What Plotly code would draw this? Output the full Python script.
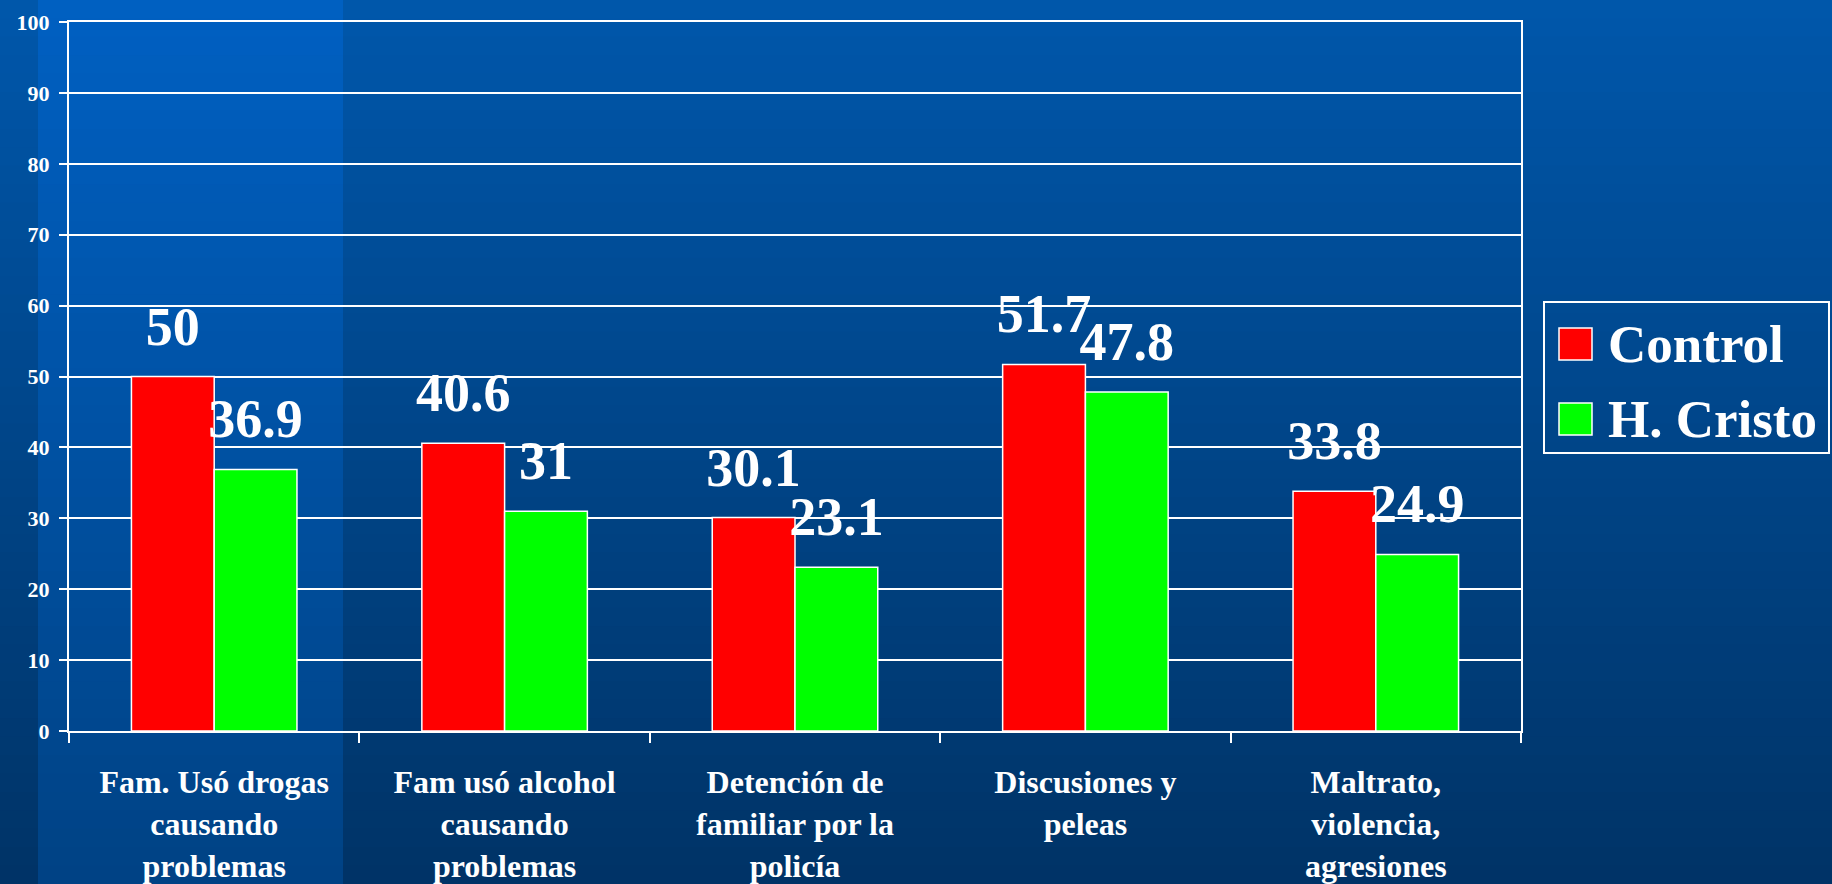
import plotly.graph_objects as go

# Datos del gráfico
categorias = [
    "Fam. Usó drogas<br>causando<br>problemas",
    "Fam usó alcohol<br>causando<br>problemas",
    "Detención de<br>familiar por la<br>policía",
    "Discusiones y<br>peleas",
    "Maltrato,<br>violencia,<br>agresiones",
]
control = [50, 40.6, 30.1, 51.7, 33.8]
cristo = [36.9, 31, 23.1, 47.8, 24.9]
series = ["Control", "H. Cristo"]
colores = ["#FF0000", "#00FF00"]
ticks_y = [0, 10, 20, 30, 40, 50, 60, 70, 80, 90, 100]

# Geometría de la figura (px)
ANCHO, ALTO = 1832, 884
L, R, T, B = 69, 1521, 22, 731
PW, PH = R - L, B - T
FUENTE = "Liberation Serif, Times New Roman, serif"


def px(x, y):
    # pixel de la página -> coordenadas paper
    return (x - L) / PW, (B - y) / PH


def mezcla(c1, c2, t):
    return "rgb({},{},{})".format(*[round(a + (b - a) * t) for a, b in zip(c1, c2)])


formas = []


def degradado(x0, x1, arriba, abajo, n=48):
    for i in range(n):
        y0 = ALTO * i / n
        y1 = ALTO * (i + 1) / n + 1
        a0, b0 = px(x0, y1)
        a1, b1 = px(x1, y0)
        formas.append(dict(type="rect", xref="paper", yref="paper", x0=a0, x1=a1,
                           y0=b0, y1=b1, layer="below", line_width=0,
                           fillcolor=mezcla(arriba, abajo, (i + 0.5) / n)))


# fondo tipo diapositiva
degradado(0, ANCHO, (0, 87, 171), (0, 51, 102))
degradado(38, 343, (0, 96, 194), (0, 66, 132))

fig = go.Figure()
for nombre, valores, color in zip(series, [control, cristo], colores):
    fig.add_trace(go.Bar(
        x=categorias, y=valores, name=nombre, offsetgroup=nombre,
        marker=dict(color=color, line=dict(color="white", width=1.5)),
        showlegend=False, hoverinfo="skip",
    ))
    fig.add_trace(go.Scatter(
        x=categorias, y=valores, offsetgroup=nombre, mode="markers+text",
        text=[f"{v:g}" for v in valores], textposition="top center",
        marker=dict(size=28, opacity=0), cliponaxis=False,
        textfont=dict(family=FUENTE, size=54, color="white", weight="bold"),
        showlegend=False, hoverinfo="skip",
    ))

# leyenda dibujada a mano (cuadros grandes)
x0, y0 = px(1544, 453)
x1, y1 = px(1829, 302)
formas.append(dict(type="rect", xref="paper", yref="paper", x0=x0, x1=x1, y0=y0, y1=y1,
                   line=dict(color="white", width=2), fillcolor="rgba(0,0,0,0)"))
anotaciones = []
for i, (nombre, color) in enumerate(zip(series, colores)):
    cy = 344 + i * 75
    a0, b0 = px(1559, cy + 16)
    a1, b1 = px(1592, cy - 16)
    formas.append(dict(type="rect", xref="paper", yref="paper", x0=a0, x1=a1, y0=b0, y1=b1,
                       fillcolor=color, line=dict(color="white", width=1.5)))
    tx, ty = px(1606, cy)
    anotaciones.append(dict(xref="paper", yref="paper", x=tx, y=ty, text=nombre,
                            showarrow=False, xanchor="left", yanchor="middle",
                            font=dict(family=FUENTE, size=53, color="white", weight="bold")))

fig.update_layout(
    width=ANCHO, height=ALTO,
    margin=dict(l=L, r=ANCHO - R, t=T, b=ALTO - B, autoexpand=False),
    paper_bgcolor="#003366", plot_bgcolor="rgba(0,0,0,0)",
    barmode="group", bargap=0.43, bargroupgap=0,
    scattermode="group", scattergap=0.43,
    shapes=formas, annotations=anotaciones,
    font=dict(family=FUENTE, color="white"),
    showlegend=False,
)
fig.update_xaxes(
    showgrid=False, showline=True, linecolor="white", linewidth=2, mirror=True,
    ticks="outside", tickson="boundaries", ticklen=10, tickwidth=2, tickcolor="white",
    tickfont=dict(family=FUENTE, size=32, color="white", weight="bold"),
    ticklabelstandoff=22, automargin=False,
)
fig.update_yaxes(
    range=[0, 100], tickvals=ticks_y, showgrid=True, gridcolor="white", gridwidth=2,
    showline=True, linecolor="white", linewidth=2, mirror=True, zeroline=False,
    ticks="outside", ticklen=8, tickwidth=2, tickcolor="white",
    tickfont=dict(family=FUENTE, size=22, color="white", weight="bold"),
    ticklabelstandoff=5, automargin=False,
)

fig.write_html("out.html", config={"displayModeBar": False},
               post_script="document.body.style.margin='0';")
